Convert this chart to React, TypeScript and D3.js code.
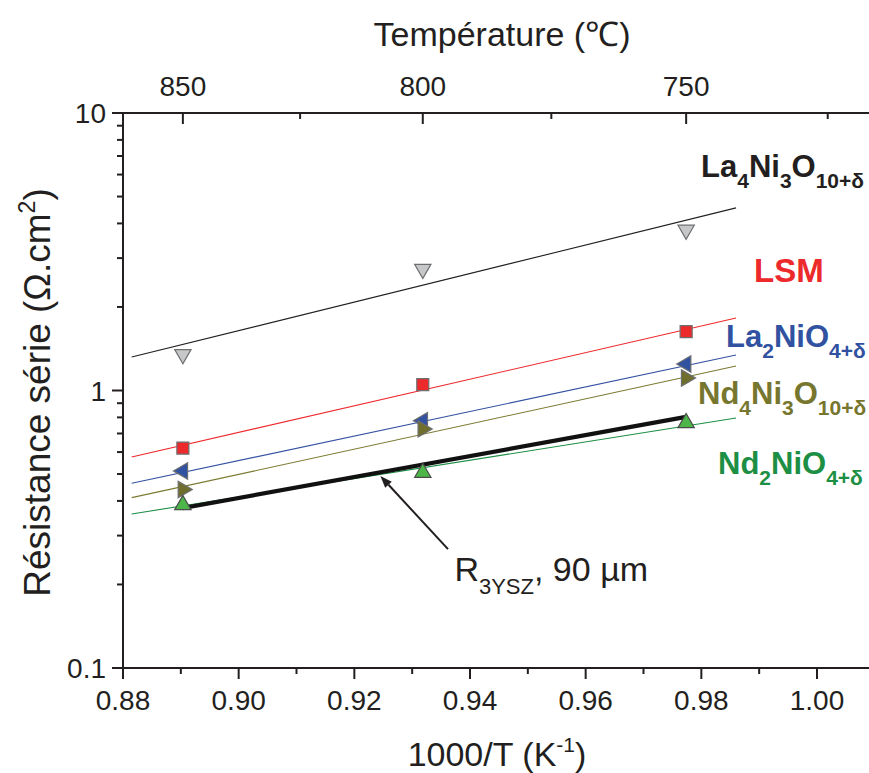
import React from 'react';
import * as d3 from 'd3';

const W = 869;
const H = 773;

// Measurement temperatures (°C) and the corresponding 1000/T
const measureTempsC = [850, 800, 750];
const tempMajor = [850, 800, 750];
const tempMinor = [825, 775, 725];
const xMajorTicks = [0.88, 0.9, 0.92, 0.94, 0.96, 0.98, 1.0];
const xMinorTicks = [0.89, 0.91, 0.93, 0.95, 0.97, 0.99, 1.01];
const yMajorTicks = [0.1, 1, 10];
const yMinorTicks = [0.2, 0.3, 0.4, 0.5, 0.6, 0.7, 0.8, 0.9, 2, 3, 4, 5, 6, 7, 8, 9];

// Series values (Ω.cm²) at 850, 800, 750 °C
const la4ni3o10 = [1.35, 2.74, 3.79];
const lsm = [0.62, 1.05, 1.63];
const la2nio4 = [0.513, 0.778, 1.246];
const nd4ni3o10 = [0.44, 0.727, 1.109];
const nd2nio4 = [0.387, 0.506, 0.764];

// Fitted Arrhenius lines: endpoints in 1000/T and values
const fitX = [0.8815, 0.986];
const la4ni3o10Fit = [1.32, 4.55];
const lsmFit = [0.576, 1.825];
const la2nio4Fit = [0.463, 1.343];
const nd4ni3o10Fit = [0.411, 1.225];
const nd2nio4Fit = [0.359, 0.796];

// Electrolyte resistance 3YSZ 90 µm at 850 and 750 °C
const r3yszTemps = [850, 750];
const r3ysz = [0.377, 0.803];

const toInvT = (c: number) => 1000 / (c + 273.15);

const FONT = "'Liberation Sans', Arial, Helvetica, sans-serif";

type Series = {
  name: string;
  values: number[];
  fit: number[];
  line: string;
  fill: string;
  stroke: string;
  shape: 'down' | 'square' | 'left' | 'right' | 'up';
};

const series: Series[] = [
  { name: 'La4Ni3O10', values: la4ni3o10, fit: la4ni3o10Fit, line: '#231f20', fill: '#c6c7c8', stroke: '#6d6e70', shape: 'down' },
  { name: 'LSM', values: lsm, fit: lsmFit, line: '#ee2a2e', fill: '#ec2a2c', stroke: '#6d6e70', shape: 'square' },
  { name: 'La2NiO4', values: la2nio4, fit: la2nio4Fit, line: '#3552a3', fill: '#3151a1', stroke: '#6d6e70', shape: 'left' },
  { name: 'Nd4Ni3O10', values: nd4ni3o10, fit: nd4ni3o10Fit, line: '#7b7a32', fill: '#6f6e2c', stroke: '#6d6e70', shape: 'right' },
  { name: 'Nd2NiO4', values: nd2nio4, fit: nd2nio4Fit, line: '#1c8f45', fill: '#4cb748', stroke: '#4a4a4a', shape: 'up' },
];

export default function App() {
  const left = 123;
  const top = 113;
  const bottom = 668;
  const x = d3.scaleLinear().domain([0.88, 1.0]).range([left, 817]);
  const y = d3.scaleLog().domain([0.1, 10]).range([bottom, top]);
  const xEnd = x(1.012);

  const line = d3
    .line<[number, number]>()
    .x((d) => x(d[0]))
    .y((d) => y(d[1]));

  const triPath = d3.symbol(d3.symbolTriangle, 115)() as string;
  const sqPath = d3.symbol(d3.symbolSquare, 144)() as string;

  const marker = (s: Series, cx: number, cy: number, key: string) => {
    const rot = s.shape === 'down' ? 180 : s.shape === 'left' ? -90 : s.shape === 'right' ? 90 : 0;
    const d = s.shape === 'square' ? sqPath : triPath;
    return (
      <path
        key={key}
        d={d}
        transform={`translate(${cx},${cy}) rotate(${rot})`}
        fill={s.fill}
        stroke={s.stroke}
        strokeWidth={1.2}
      />
    );
  };

  // Arrow annotation (data coordinates)
  const tip: [number, number] = [0.9245, 0.492];
  const tail: [number, number] = [0.9362, 0.268];
  const tx = x(tip[0]);
  const ty = y(tip[1]);
  const sx = x(tail[0]);
  const sy = y(tail[1]);
  const ang = Math.atan2(ty - sy, tx - sx);
  const ah = 12;
  const aw = 4.5;
  const bx = tx - ah * Math.cos(ang);
  const by = ty - ah * Math.sin(ang);
  const arrowHead = `M${tx},${ty} L${bx + aw * Math.sin(ang)},${by - aw * Math.cos(ang)} L${bx - aw * Math.sin(ang)},${by + aw * Math.cos(ang)} Z`;

  const axisColor = '#231f20';
  const sub = 21;
  const sd = 11;

  return (
    <svg
      width={W}
      height={H}
      style={{ position: 'absolute', left: 0, top: 0, background: '#fff' }}
      fontFamily={FONT}
    >
      <rect x={0} y={0} width={W} height={H} fill="#fff" />

      {/* fit lines */}
      {series.map((s) => (
        <path
          key={'fit' + s.name}
          d={line([
            [fitX[0], s.fit[0]],
            [fitX[1], s.fit[1]],
          ]) as string}
          fill="none"
          stroke={s.line}
          strokeWidth={1.1}
        />
      ))}

      {/* R3YSZ thick line */}
      <path
        d={line(r3yszTemps.map((t, i) => [toInvT(t), r3ysz[i]] as [number, number])) as string}
        fill="none"
        stroke="#111"
        strokeWidth={4.2}
      />

      {/* markers */}
      {series.map((s) =>
        s.values.map((v, i) => marker(s, x(toInvT(measureTempsC[i])), y(v), s.name + i))
      )}

      {/* axes */}
      <g stroke={axisColor} strokeWidth={2} fill="none">
        <line x1={left} y1={top} x2={xEnd} y2={top} />
        <line x1={left} y1={bottom} x2={xEnd} y2={bottom} />
        <line x1={left} y1={top} x2={left} y2={bottom} />
        {yMajorTicks.map((t) => (
          <line key={'ym' + t} x1={left - 11} x2={left} y1={y(t)} y2={y(t)} />
        ))}
        {yMinorTicks.map((t) => (
          <line key={'yn' + t} x1={left - 6} x2={left} y1={y(t)} y2={y(t)} />
        ))}
        {xMajorTicks.map((t) => (
          <line key={'xm' + t} x1={x(t)} x2={x(t)} y1={bottom} y2={bottom + 11} />
        ))}
        {xMinorTicks.map((t) => (
          <line key={'xn' + t} x1={x(t)} x2={x(t)} y1={bottom} y2={bottom + 6} />
        ))}
        {tempMajor.map((t) => (
          <line key={'tm' + t} x1={x(toInvT(t))} x2={x(toInvT(t))} y1={top} y2={top + 11} />
        ))}
        {tempMinor.map((t) => (
          <line key={'tn' + t} x1={x(toInvT(t))} x2={x(toInvT(t))} y1={top} y2={top + 6} />
        ))}
      </g>

      {/* tick labels */}
      <g fill="#231f20" fontSize={28}>
        {xMajorTicks.map((t) => (
          <text key={'xl' + t} x={x(t)} y={bottom + 42} textAnchor="middle">
            {d3.format('.2f')(t)}
          </text>
        ))}
        {tempMajor.map((t) => (
          <text key={'tl' + t} x={x(toInvT(t))} y={top - 17} textAnchor="middle">
            {t}
          </text>
        ))}
        {yMajorTicks.map((t) => (
          <text key={'yl' + t} x={left - 17} y={y(t) + 10} textAnchor="end">
            {t >= 1 ? d3.format('d')(t) : String(t)}
          </text>
        ))}
      </g>

      {/* axis titles */}
      <text x={502} y={46} textAnchor="middle" fontSize={34} fill="#231f20">
        Température (℃)
      </text>
      <text x={497} y={766} textAnchor="middle" fontSize={34} fill="#231f20">
        1000/T (K
        <tspan dy={-14} fontSize={21}>-1</tspan>
        <tspan dy={14}>)</tspan>
      </text>
      <text
        transform={`translate(50,${(top + bottom) / 2 + 2}) rotate(-90)`}
        textAnchor="middle"
        fontSize={37}
        fill="#231f20"
      >
        Résistance série (Ω.cm
        <tspan dy={-15} fontSize={23}>2</tspan>
        <tspan dy={15}>)</tspan>
      </text>

      {/* series labels */}
      <g fontWeight="bold" fontSize={31}>
        <text x={701} y={177} fill="#231f20">
          La<tspan dy={sd} fontSize={sub}>4</tspan>
          <tspan dy={-sd}>Ni</tspan>
          <tspan dy={sd} fontSize={sub}>3</tspan>
          <tspan dy={-sd}>O</tspan>
          <tspan dy={sd} fontSize={sub}>10+δ</tspan>
        </text>
        <text x={754} y={282} fill="#ec2a2c" fontSize={33}>
          LSM
        </text>
        <text x={726} y={347} fill="#3151a1">
          La<tspan dy={sd} fontSize={sub}>2</tspan>
          <tspan dy={-sd}>NiO</tspan>
          <tspan dy={sd} fontSize={sub}>4+δ</tspan>
        </text>
        <text x={698} y={404} fill="#77762e">
          Nd<tspan dy={sd} fontSize={sub}>4</tspan>
          <tspan dy={-sd}>Ni</tspan>
          <tspan dy={sd} fontSize={sub}>3</tspan>
          <tspan dy={-sd}>O</tspan>
          <tspan dy={sd} fontSize={sub}>10+δ</tspan>
        </text>
        <text x={718} y={474} fill="#1c8f45">
          Nd<tspan dy={sd} fontSize={sub}>2</tspan>
          <tspan dy={-sd}>NiO</tspan>
          <tspan dy={sd} fontSize={sub}>4+δ</tspan>
        </text>
      </g>

      {/* annotation */}
      <line x1={sx} y1={sy} x2={bx} y2={by} stroke="#231f20" strokeWidth={2} />
      <path d={arrowHead} fill="#231f20" />
      <text x={x(0.9373)} y={y(0.205)} fontSize={34} fill="#231f20">
        R<tspan dy={13} fontSize={22}>3YSZ</tspan>
        <tspan dy={-13}>, 90 µm</tspan>
      </text>
    </svg>
  );
}
